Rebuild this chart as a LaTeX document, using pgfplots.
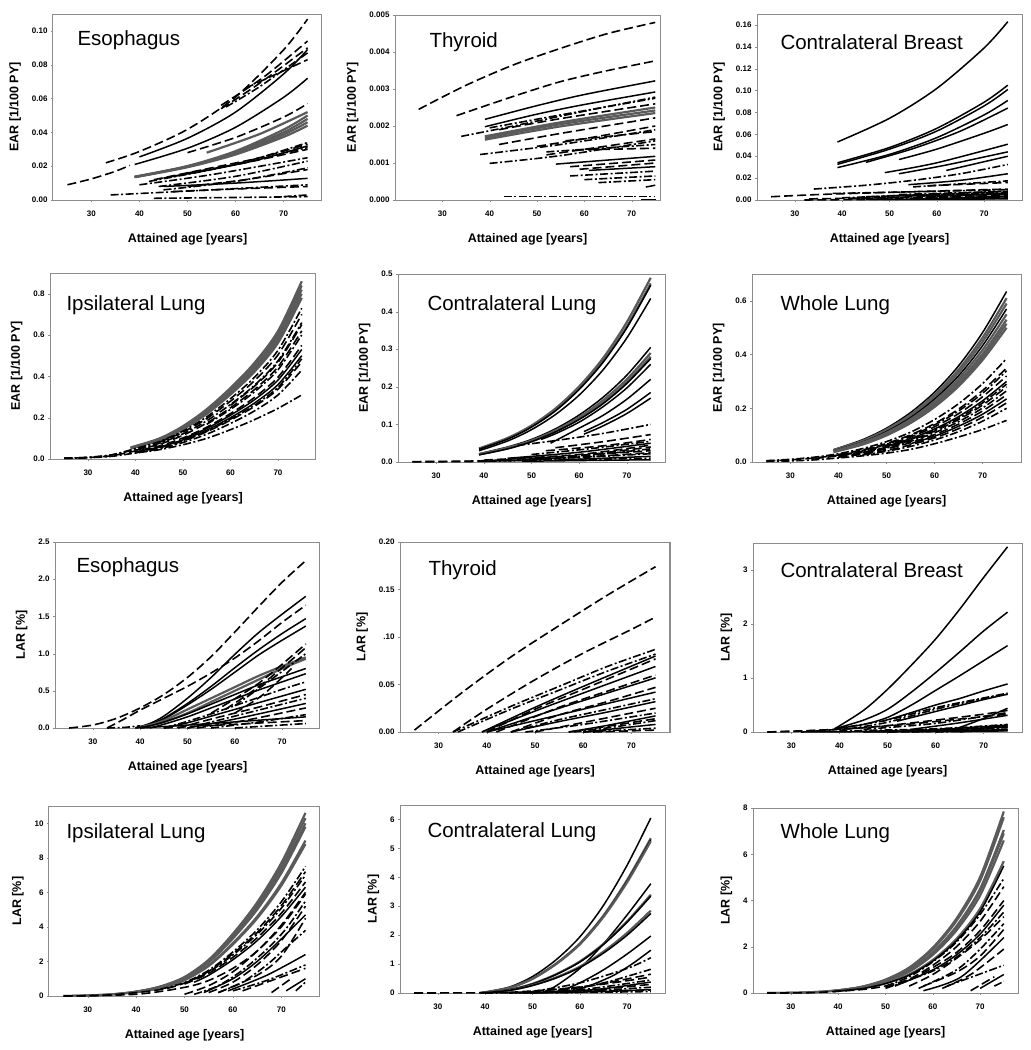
\documentclass[border=0pt]{standalone}
\usepackage{fontspec}
\setmainfont{Liberation Sans}
\usepackage{pgfplots}
\pgfplotsset{compat=1.18}
\definecolor{lgray}{HTML}{5A5A5A}
\definecolor{frame}{HTML}{8C8C8C}
\tikzset{
  bk/.style={black, line width=1.5pt, smooth},
  gr/.style={lgray, line width=2.2pt, smooth},
  ds/.style={black, line width=1.6pt, smooth, dash pattern=on 9pt off 4pt},
  dd/.style={black, line width=1.6pt, smooth, dash pattern=on 8pt off 2.5pt on 2pt off 2.5pt},
  ttl/.style={anchor=west, font=\fontsize{20.5}{23}\selectfont},
}
\pgfplotsset{
  panel/.style={
    scale only axis, anchor=north west,
    xmin=22, xmax=78, ymin=0,
    scaled y ticks=false, scaled x ticks=false,
    xtick={30,40,50,60,70}, xticklabels={30,40,50,60,70},
    axis line style={draw=frame, line width=1pt},
    tick pos=left,
    tick style={draw=frame}, tick align=outside, major tick length=2pt,
    /pgf/number format/assume math mode=true,
    ticklabel style={font=\bfseries\fontsize{8}{9}\selectfont},
    xticklabel style={yshift=-5pt},
    label style={font=\bfseries\fontsize{12.5}{14}\selectfont},
    xlabel={Attained age [years]},
    xlabel style={yshift=-10pt},
    ylabel style={yshift=4pt},
  },
}
\begin{document}
\begin{tikzpicture}
\path[use as bounding box] (0,0) rectangle (1031pt,-1050pt);

% ---------------- EAR Esophagus
\begin{axis}[panel, at={(53pt,-14pt)}, width=269pt, height=186pt, ymax=0.11,
  ytick={0,0.02,0.04,0.06,0.08,0.10}, yticklabels={0.00,0.02,0.04,0.06,0.08,0.10},
  ylabel={EAR [1/100 PY]}]
\node[ttl, xshift=21pt, yshift=-26pt] at (rel axis cs:0,1) {Esophagus};
\addplot[gr] coordinates {(39,0.0135)(50,0.0194)(60,0.0269)(70,0.0373)(75,0.044)};
\addplot[gr] coordinates {(39,0.0135)(50,0.0197)(60,0.0276)(70,0.0387)(75,0.046)};
\addplot[gr] coordinates {(39,0.0137)(50,0.0199)(60,0.0282)(70,0.0400)(75,0.048)};
\addplot[gr] coordinates {(39,0.0138)(50,0.0201)(60,0.0289)(70,0.0416)(75,0.050)};
\addplot[gr] coordinates {(54,0.028)(65,0.039)(75,0.052)};
\addplot[ds] coordinates {(33,0.022)(40,0.0287)(50,0.0418)(60,0.0609)(70,0.0888)(75,0.107)};
\addplot[ds] coordinates {(25,0.009)(30,0.0125)(35,0.017)(38,0.0205)};
\addplot[bk] coordinates {(39,0.021)(50,0.0306)(60,0.043)(70,0.0607)(75,0.072)};
\addplot[bk] coordinates {(40,0.0255)(50,0.0365)(60,0.052)(70,0.0745)(75,0.089)};
\addplot[ds] coordinates {(57,0.054)(65,0.069)(75,0.090)};
\addplot[dd] coordinates {(58,0.055)(65,0.067)(75,0.087)};
\addplot[ds] coordinates {(57,0.056)(66,0.073)(75,0.094)};
\addplot[ds] coordinates {(62,0.066)(75,0.083)};
\addplot[ds] coordinates {(50,0.028)(60,0.037)(70,0.049)(75,0.057)};
\addplot[dd] coordinates {(42,0.011)(55,0.018)(65,0.025)(75,0.034)};
\addplot[ds] coordinates {(43,0.012)(55,0.019)(65,0.025)(75,0.033)};
\addplot[bk] coordinates {(45,0.013)(55,0.018)(65,0.024)(75,0.032)};
\addplot[dd] coordinates {(47,0.014)(60,0.021)(75,0.031)};
\addplot[ds] coordinates {(50,0.016)(62,0.022)(75,0.030)};
\addplot[dd] coordinates {(40,0.009)(55,0.015)(75,0.025)};
\addplot[dd] coordinates {(44,0.008)(60,0.014)(75,0.023)};
\addplot[dd] coordinates {(45,0.006)(60,0.011)(75,0.019)};
\addplot[ds] coordinates {(50,0.008)(62,0.012)(75,0.018)};
\addplot[bk] coordinates {(45,0.008)(60,0.010)(75,0.0128)};
\addplot[dd] coordinates {(34,0.003)(55,0.006)(75,0.009)};
\addplot[ds] coordinates {(47,0.005)(60,0.0065)(75,0.008)};
\addplot[dd] coordinates {(43,0.001)(60,0.0015)(75,0.002)};
\addplot[dd] coordinates {(70,0.002)(75,0.003)};
\end{axis}

% ---------------- EAR Thyroid
\begin{axis}[panel, at={(395pt,-15pt)}, width=265pt, height=185pt, xmin=20, xmax=76, ymax=0.005,
  ytick={0,0.001,0.002,0.003,0.004,0.005}, yticklabels={0.000,0.001,0.002,0.003,0.004,0.005},
  ylabel={EAR [1/100 PY]}]
\node[ttl, xshift=31pt, yshift=-27pt] at (rel axis cs:0,1) {Thyroid};
\addplot[ds] coordinates {(25,0.00245)(35,0.0031)(45,0.00365)(55,0.0041)(65,0.0045)(75,0.0048)};
\addplot[ds] coordinates {(33,0.00228)(45,0.0028)(55,0.0032)(65,0.0035)(75,0.00376)};
\addplot[bk] coordinates {(39,0.00218)(50,0.00255)(60,0.00285)(75,0.00322)};
\addplot[bk] coordinates {(39,0.00198)(50,0.00232)(60,0.00258)(75,0.00292)};
\addplot[dd] coordinates {(34,0.00172)(45,0.0020)(60,0.0024)(75,0.00278)};
\addplot[dd] coordinates {(40,0.00195)(55,0.0023)(75,0.00275)};
\addplot[ds] coordinates {(42,0.0019)(55,0.0022)(75,0.0026)};
\addplot[gr] coordinates {(39,0.00172)(55,0.0021)(75,0.0025)};
\addplot[gr] coordinates {(39,0.00168)(55,0.00205)(75,0.00242)};
\addplot[gr] coordinates {(39,0.00163)(55,0.00199)(75,0.00235)};
\addplot[ds] coordinates {(42,0.0015)(55,0.0018)(75,0.00222)};
\addplot[dd] coordinates {(38,0.00123)(55,0.0015)(75,0.0019)};
\addplot[ds] coordinates {(50,0.00145)(62,0.0017)(75,0.0020)};
\addplot[ds] coordinates {(56,0.0016)(75,0.00185)};
\addplot[dd] coordinates {(40,0.00099)(55,0.0012)(75,0.0016)};
\addplot[ds] coordinates {(52,0.00122)(75,0.00165)};
\addplot[dd] coordinates {(52,0.0013)(75,0.0015)};
\addplot[ds] coordinates {(58,0.00135)(75,0.0014)};
\addplot[bk] coordinates {(54,0.00097)(75,0.00118)};
\addplot[ds] coordinates {(57,0.0009)(75,0.00108)};
\addplot[ds] coordinates {(59,0.00083)(75,0.0010)};
\addplot[bk] coordinates {(61,0.0008)(75,0.0009)};
\addplot[dd] coordinates {(57,0.00065)(75,0.00078)};
\addplot[dd] coordinates {(60,0.00055)(75,0.00065)};
\addplot[dd] coordinates {(63,0.00047)(75,0.00055)};
\addplot[bk] coordinates {(73,0.00035)(75,0.0004)};
\addplot[dd] coordinates {(43,0.0001)(75,0.0001)};
\addplot[bk] coordinates {(72,0.00002)(75,0.00002)};
\end{axis}

% ---------------- EAR Contralateral Breast
\begin{axis}[panel, at={(757pt,-14pt)}, width=265pt, height=186pt, ymax=0.17,
  ytick={0,0.02,0.04,0.06,0.08,0.10,0.12,0.14,0.16},
  yticklabels={0.00,0.02,0.04,0.06,0.08,0.10,0.12,0.14,0.16},
  ylabel={EAR [1/100 PY]}]
\node[ttl, xshift=20pt, yshift=-28pt] at (rel axis cs:0,1) {Contralateral Breast};
\addplot[bk] coordinates {(39,0.053)(50,0.0747)(60,0.102)(70,0.139)(75,0.163)};
\addplot[bk] coordinates {(39,0.034)(50,0.048)(60,0.0655)(70,0.0894)(75,0.105)};
\addplot[bk] coordinates {(39,0.0326)(50,0.0465)(60,0.063)(70,0.086)(75,0.101)};
\addplot[bk] coordinates {(39,0.0296)(50,0.0417)(60,0.057)(70,0.0778)(75,0.091)};
\addplot[bk] coordinates {(45,0.0344)(55,0.047)(65,0.063)(75,0.084)};
\addplot[bk] coordinates {(52,0.037)(60,0.0465)(70,0.061)(75,0.069)};
\addplot[bk] coordinates {(49,0.025)(60,0.034)(75,0.051)};
\addplot[bk] coordinates {(52,0.024)(62,0.032)(75,0.044)};
\addplot[bk] coordinates {(62,0.027)(75,0.040)};
\addplot[dd] coordinates {(34,0.010)(45,0.0135)(55,0.018)(65,0.024)(75,0.0325)};
\addplot[bk] coordinates {(54,0.014)(65,0.018)(75,0.024)};
\addplot[dd] coordinates {(55,0.012)(75,0.0175)};
\addplot[ds] coordinates {(58,0.013)(75,0.016)};
\addplot[ds] coordinates {(25,0.003)(35,0.005)(50,0.007)(75,0.010)};
\addplot[dd] coordinates {(38,0.006)(55,0.0075)(75,0.0095)};
\addplot[dd] coordinates {(40,0.002)(75,0.008)};
\addplot[ds] coordinates {(42,0.001)(75,0.006)};
\addplot[dd] coordinates {(45,0.003)(75,0.007)};
\addplot[bk] coordinates {(50,0.004)(75,0.005)};
\addplot[ds] coordinates {(33,0.001)(75,0.004)};
\addplot[dd] coordinates {(48,0.001)(75,0.003)};
\addplot[ds] coordinates {(55,0.002)(75,0.002)};
\addplot[bk] coordinates {(45,0.0005)(75,0.001)};
\addplot[dd] coordinates {(52,0.005)(75,0.008)};
\addplot[ds] coordinates {(60,0.003)(75,0.0065)};
\addplot[bk] coordinates {(58,0.001)(75,0.0035)};
\addplot[dd] coordinates {(62,0.0045)(75,0.0055)};
\addplot[ds] coordinates {(32,0.0)(45,0.0005)(75,0.0015)};
\end{axis}

% ---------------- EAR Ipsilateral Lung
\begin{axis}[panel, at={(50pt,-273pt)}, width=266pt, height=186pt, ymax=0.9,
  ytick={0,0.2,0.4,0.6,0.8}, yticklabels={0.0,0.2,0.4,0.6,0.8},
  ylabel={EAR [1/100 PY]}]
\node[ttl, xshift=13pt, yshift=-32pt] at (rel axis cs:0,1) {Ipsilateral Lung};
\addplot[gr] coordinates {(39,0.056)(45,0.099)(50,0.159)(55,0.241)(60,0.344)(65,0.464)(70,0.619)(75,0.86)};
\addplot[gr] coordinates {(39,0.055)(45,0.097)(50,0.155)(55,0.235)(60,0.336)(65,0.454)(70,0.605)(75,0.84)};
\addplot[gr] coordinates {(39,0.053)(45,0.094)(50,0.152)(55,0.230)(60,0.328)(65,0.443)(70,0.590)(75,0.82)};
\addplot[gr] coordinates {(39,0.052)(45,0.092)(50,0.148)(55,0.224)(60,0.320)(65,0.432)(70,0.576)(75,0.80)};
\addplot[gr] coordinates {(39,0.051)(45,0.090)(50,0.144)(55,0.218)(60,0.312)(65,0.421)(70,0.562)(75,0.78)};
\addplot[dd] coordinates {(25,0.004)(30,0.008)(35,0.02)(40,0.051)(45,0.084)(50,0.135)(55,0.204)(60,0.292)(65,0.394)(70,0.526)(75,0.73)};
\addplot[ds] coordinates {(45,0.081)(50,0.130)(55,0.196)(60,0.280)(65,0.378)(70,0.504)(75,0.70)};
\addplot[dd] coordinates {(25,0.004)(30,0.008)(35,0.02)(40,0.046)(45,0.076)(50,0.122)(55,0.185)(60,0.264)(65,0.356)(70,0.475)(75,0.66)};
\addplot[ds] coordinates {(60,0.26)(65,0.351)(70,0.468)(75,0.65)};
\addplot[ds] coordinates {(40,0.043)(45,0.071)(50,0.115)(55,0.174)(60,0.248)(65,0.335)(70,0.446)(75,0.62)};
\addplot[dd] coordinates {(55,0.168)(60,0.24)(65,0.324)(70,0.432)(75,0.60)};
\addplot[ds] coordinates {(25,0.003)(30,0.007)(35,0.016)(40,0.039)(45,0.063)(50,0.102)(55,0.154)(60,0.220)(65,0.297)(70,0.396)(75,0.55)};
\addplot[bk] coordinates {(50,0.098)(55,0.148)(60,0.212)(65,0.286)(70,0.382)(75,0.53)};
\addplot[bk] coordinates {(40,0.035)(45,0.058)(50,0.093)(55,0.140)(60,0.200)(65,0.270)(70,0.360)(75,0.50)};
\addplot[dd] coordinates {(45,0.056)(50,0.089)(55,0.135)(60,0.193)(65,0.260)(70,0.347)(75,0.485)};
\addplot[ds] coordinates {(40,0.033)(45,0.054)(50,0.087)(55,0.132)(60,0.188)(65,0.254)(70,0.338)(75,0.47)};
\addplot[dd] coordinates {(40,0.030)(45,0.049)(50,0.080)(55,0.120)(60,0.172)(65,0.232)(70,0.310)(75,0.43)};
\addplot[dd] coordinates {(25,0.003)(30,0.006)(35,0.013)(40,0.029)(45,0.045)(50,0.069)(55,0.10)(60,0.142)(65,0.19)(70,0.245)(75,0.31)};
\end{axis}

% ---------------- EAR Contralateral Lung
\begin{axis}[panel, at={(398pt,-274pt)}, width=267pt, height=188pt, ymax=0.5,
  ytick={0,0.1,0.2,0.3,0.4,0.5}, yticklabels={0.0,0.1,0.2,0.3,0.4,0.5},
  ylabel={EAR [1/100 PY]}]
\node[ttl, xshift=26pt, yshift=-31pt] at (rel axis cs:0,1) {Contralateral Lung};
\addplot[gr] coordinates {(39,0.036)(45,0.064)(50,0.097)(55,0.142)(60,0.201)(65,0.276)(70,0.372)(75,0.49)};
\addplot[gr] coordinates {(39,0.035)(45,0.062)(50,0.094)(55,0.137)(60,0.195)(65,0.268)(70,0.360)(75,0.475)};
\addplot[bk] coordinates {(39,0.034)(45,0.061)(50,0.093)(55,0.136)(60,0.193)(65,0.265)(70,0.357)(75,0.47)};
\addplot[bk] coordinates {(39,0.030)(45,0.056)(50,0.086)(55,0.126)(60,0.178)(65,0.245)(70,0.330)(75,0.435)};
\addplot[bk] coordinates {(39,0.022)(45,0.040)(50,0.060)(55,0.088)(60,0.125)(65,0.172)(70,0.231)(75,0.305)};
\addplot[gr] coordinates {(39,0.021)(45,0.038)(50,0.057)(55,0.084)(60,0.119)(65,0.164)(70,0.220)(75,0.29)};
\addplot[gr] coordinates {(39,0.020)(45,0.036)(50,0.055)(55,0.081)(60,0.115)(65,0.158)(70,0.212)(75,0.28)};
\addplot[bk] coordinates {(39,0.019)(45,0.035)(50,0.054)(55,0.080)(60,0.113)(65,0.155)(70,0.209)(75,0.275)};
\addplot[bk] coordinates {(52,0.060)(55,0.075)(60,0.106)(65,0.147)(70,0.197)(75,0.26)};
\addplot[bk] coordinates {(54,0.05)(60,0.09)(65,0.124)(70,0.167)(75,0.22)};
\addplot[bk] coordinates {(61,0.081)(65,0.105)(70,0.14)(75,0.185)};
\addplot[bk] coordinates {(61,0.074)(65,0.096)(70,0.129)(75,0.17)};
\addplot[dd] coordinates {(47,0.044)(55,0.057)(65,0.076)(75,0.10)};
\addplot[ds] coordinates {(55,0.038)(65,0.054)(75,0.073)};
\addplot[ds] coordinates {(53,0.03)(65,0.043)(75,0.06)};
\addplot[dd] coordinates {(50,0.02)(62,0.035)(75,0.055)};
\addplot[bk] coordinates {(45,0.01)(60,0.026)(75,0.05)};
\addplot[ds] coordinates {(40,0.005)(60,0.02)(75,0.045)};
\addplot[dd] coordinates {(45,0.003)(60,0.015)(75,0.035)};
\addplot[ds] coordinates {(50,0.008)(62,0.014)(75,0.025)};
\addplot[bk] coordinates {(55,0.005)(75,0.015)};
\addplot[dd] coordinates {(40,0.002)(75,0.01)};
\addplot[ds] coordinates {(25,0.0005)(40,0.002)(55,0.01)(75,0.04)};
\addplot[ds] coordinates {(25,0.001)(39,0.003)(50,0.01)(75,0.03)};
\addplot[dd] coordinates {(45,0.004)(60,0.012)(75,0.022)};
\addplot[bk] coordinates {(48,0.002)(75,0.006)};
\end{axis}

% ---------------- EAR Whole Lung
\begin{axis}[panel, at={(752pt,-274pt)}, width=269pt, height=188pt, ymax=0.7,
  ytick={0,0.2,0.4,0.6}, yticklabels={0.0,0.2,0.4,0.6},
  ylabel={EAR [1/100 PY]}]
\node[ttl, xshift=25pt, yshift=-31pt] at (rel axis cs:0,1) {Whole Lung};
\addplot[bk] coordinates {(39,0.046)(45,0.083)(50,0.126)(55,0.184)(60,0.260)(65,0.358)(70,0.482)(75,0.635)};
\addplot[gr] coordinates {(39,0.045)(45,0.079)(50,0.121)(55,0.176)(60,0.250)(65,0.344)(70,0.463)(75,0.61)};
\addplot[gr] coordinates {(39,0.043)(45,0.077)(50,0.117)(55,0.171)(60,0.242)(65,0.333)(70,0.448)(75,0.59)};
\addplot[bk] coordinates {(39,0.042)(45,0.074)(50,0.113)(55,0.165)(60,0.234)(65,0.321)(70,0.433)(75,0.57)};
\addplot[gr] coordinates {(39,0.040)(45,0.072)(50,0.109)(55,0.159)(60,0.226)(65,0.310)(70,0.417)(75,0.55)};
\addplot[gr] coordinates {(39,0.039)(45,0.069)(50,0.105)(55,0.153)(60,0.217)(65,0.299)(70,0.402)(75,0.53)};
\addplot[gr] coordinates {(39,0.038)(45,0.067)(50,0.102)(55,0.149)(60,0.211)(65,0.290)(70,0.391)(75,0.515)};
\addplot[gr] coordinates {(39,0.037)(45,0.065)(50,0.099)(55,0.145)(60,0.205)(65,0.282)(70,0.380)(75,0.50)};
\addplot[dd] coordinates {(25,0.005)(30,0.010)(35,0.018)(40,0.031)(45,0.050)(50,0.076)(55,0.111)(60,0.158)(65,0.217)(70,0.292)(75,0.385)};
\addplot[ds] coordinates {(40,0.028)(45,0.045)(50,0.069)(55,0.101)(60,0.143)(65,0.197)(70,0.266)(75,0.35)};
\addplot[dd] coordinates {(45,0.043)(50,0.066)(55,0.097)(60,0.138)(65,0.19)(70,0.256)(75,0.34)};
\addplot[ds] coordinates {(25,0.004)(30,0.008)(35,0.015)(40,0.026)(45,0.041)(50,0.063)(55,0.093)(60,0.131)(65,0.180)(70,0.243)(75,0.32)};
\addplot[bk] coordinates {(50,0.059)(55,0.087)(60,0.123)(65,0.169)(70,0.228)(75,0.30)};
\addplot[dd] coordinates {(40,0.024)(45,0.038)(50,0.057)(55,0.084)(60,0.119)(65,0.163)(70,0.220)(75,0.29)};
\addplot[ds] coordinates {(35,0.013)(40,0.023)(45,0.036)(50,0.055)(55,0.081)(60,0.115)(65,0.158)(70,0.212)(75,0.28)};
\addplot[dd] coordinates {(45,0.034)(50,0.052)(55,0.077)(60,0.109)(65,0.150)(70,0.201)(75,0.265)};
\addplot[ds] coordinates {(40,0.020)(45,0.032)(50,0.049)(55,0.072)(60,0.102)(65,0.141)(70,0.190)(75,0.25)};
\addplot[bk] coordinates {(55,0.068)(60,0.096)(65,0.133)(70,0.178)(75,0.235)};
\addplot[ds] coordinates {(40,0.018)(45,0.029)(50,0.043)(55,0.064)(60,0.090)(65,0.124)(70,0.167)(75,0.22)};
\addplot[dd] coordinates {(45,0.026)(50,0.040)(55,0.058)(60,0.082)(65,0.113)(70,0.152)(75,0.20)};
\addplot[dd] coordinates {(25,0.002)(30,0.004)(35,0.008)(40,0.015)(45,0.023)(50,0.033)(55,0.047)(60,0.068)(65,0.093)(70,0.121)(75,0.155)};
\end{axis}

% ---------------- LAR Esophagus
\begin{axis}[panel, at={(55pt,-542pt)}, width=265pt, height=186pt, ymax=2.5,
  ytick={0,0.5,1,1.5,2,2.5}, yticklabels={0.0,0.5,1.0,1.5,2.0,2.5},
  ylabel={LAR [\%]}]
\node[ttl, xshift=18pt, yshift=-25pt] at (rel axis cs:0,1) {Esophagus};
\addplot[ds] coordinates {(25,0)(30,0.04)(35,0.13)(40,0.27)(45,0.45)(50,0.68)(55,0.96)(60,1.29)(65,1.63)(70,1.96)(75,2.25)};
\addplot[ds] coordinates {(33,0)(36,0.1)(40,0.24)(45,0.40)(50,0.56)(55,0.74)(60,0.94)(65,1.17)(70,1.42)(75,1.65)};
\addplot[bk] coordinates {(39,0)(42,0.06)(45,0.16)(50,0.40)(55,0.68)(60,0.99)(65,1.28)(70,1.53)(75,1.77)};
\addplot[bk] coordinates {(39,0)(42,0.05)(45,0.13)(50,0.33)(55,0.56)(60,0.81)(65,1.05)(70,1.27)(75,1.47)};
\addplot[bk] coordinates {(39,0)(42,0.05)(45,0.12)(50,0.31)(55,0.52)(60,0.75)(65,0.98)(70,1.18)(75,1.37)};
\addplot[gr] coordinates {(39,0)(42,0.04)(45,0.10)(50,0.25)(55,0.40)(60,0.55)(65,0.70)(70,0.83)(75,0.95)};
\addplot[gr] coordinates {(40,0)(45,0.08)(50,0.2)(55,0.35)(60,0.5)(65,0.65)(70,0.8)(75,0.93)};
\addplot[ds] coordinates {(55,0.2)(65,0.6)(75,1.13)};
\addplot[ds] coordinates {(58,0.25)(66,0.6)(75,1.08)};
\addplot[dd] coordinates {(60,0.3)(67,0.62)(75,1.0)};
\addplot[ds] coordinates {(60,0.2)(66,0.45)(72,0.8)};
\addplot[bk] coordinates {(39,0)(42,0.03)(45,0.08)(50,0.19)(55,0.32)(60,0.45)(65,0.58)(70,0.69)(75,0.80)};
\addplot[bk] coordinates {(42,0)(45,0.05)(50,0.15)(55,0.27)(60,0.39)(65,0.51)(70,0.62)(75,0.73)};
\addplot[dd] coordinates {(45,0)(50,0.09)(55,0.19)(60,0.30)(65,0.41)(70,0.52)(75,0.62)};
\addplot[bk] coordinates {(45,0)(50,0.07)(55,0.16)(60,0.25)(65,0.34)(70,0.43)(75,0.52)};
\addplot[ds] coordinates {(48,0)(55,0.12)(65,0.28)(75,0.45)};
\addplot[dd] coordinates {(50,0)(55,0.08)(65,0.24)(75,0.40)};
\addplot[bk] coordinates {(50,0)(60,0.12)(75,0.33)};
\addplot[ds] coordinates {(52,0)(62,0.1)(75,0.27)};
\addplot[dd] coordinates {(55,0)(65,0.08)(75,0.18)};
\addplot[bk] coordinates {(40,0)(55,0.06)(75,0.15)};
\addplot[ds] coordinates {(45,0)(60,0.05)(75,0.1)};
\addplot[dd] coordinates {(60,0)(75,0.06)};
\addplot[dd] coordinates {(33,0)(37,0.01)(40,0.03)};
\end{axis}

% ---------------- LAR Thyroid
\begin{axis}[panel, at={(400pt,-542pt)}, width=270pt, height=190pt, ymax=0.2,
  ytick={0,0.05,0.1,0.15,0.2}, yticklabels={0.00,0.05,.10,0.15,0.20},
  ylabel={LAR [\%]}]
\node[ttl, xshift=25pt, yshift=-28pt] at (rel axis cs:0,1) {Thyroid};
\addplot[ds] coordinates {(25,0.002)(35,0.042)(45,0.079)(55,0.112)(65,0.144)(75,0.174)};
\addplot[ds] coordinates {(33,0)(40,0.024)(50,0.055)(60,0.083)(70,0.108)(75,0.121)};
\addplot[dd] coordinates {(33,0)(45,0.027)(55,0.048)(65,0.069)(75,0.087)};
\addplot[dd] coordinates {(34,0)(45,0.024)(55,0.044)(65,0.064)(75,0.082)};
\addplot[bk] coordinates {(39,0)(50,0.026)(60,0.048)(75,0.080)};
\addplot[ds] coordinates {(40,0)(50,0.024)(60,0.045)(75,0.077)};
\addplot[bk] coordinates {(39,0)(50,0.022)(60,0.041)(75,0.069)};
\addplot[ds] coordinates {(42,0)(55,0.026)(65,0.043)(75,0.060)};
\addplot[bk] coordinates {(40,0)(55,0.025)(65,0.041)(75,0.057)};
\addplot[ds] coordinates {(45,0)(55,0.018)(65,0.032)(75,0.047)};
\addplot[bk] coordinates {(40,0)(55,0.018)(65,0.030)(75,0.042)};
\addplot[dd] coordinates {(45,0)(55,0.013)(65,0.024)(75,0.035)};
\addplot[bk] coordinates {(45,0)(55,0.011)(65,0.021)(75,0.032)};
\addplot[ds] coordinates {(50,0)(60,0.010)(75,0.025)};
\addplot[dd] coordinates {(48,0)(60,0.008)(75,0.020)};
\addplot[bk] coordinates {(57,0)(65,0.007)(75,0.017)};
\addplot[ds] coordinates {(57,0)(65,0.006)(75,0.014)};
\addplot[dd] coordinates {(58,0)(66,0.005)(75,0.012)};
\addplot[bk] coordinates {(60,0)(75,0.008)};
\addplot[dd] coordinates {(60,0)(75,0.004)};
\addplot[ds] coordinates {(62,0)(75,0.002)};
\end{axis}

% ---------------- LAR Contralateral Breast
\begin{axis}[panel, at={(753pt,-543pt)}, width=269pt, height=189pt, ymax=3.5,
  ytick={0,1,2,3}, yticklabels={0,1,2,3},
  ylabel={LAR [\%]}]
\node[ttl, xshift=24pt, yshift=-27pt] at (rel axis cs:0,1) {Contralateral Breast};
\addplot[bk] coordinates {(39,0.06)(45,0.40)(50,0.79)(55,1.24)(60,1.72)(65,2.27)(70,2.86)(75,3.43)};
\addplot[bk] coordinates {(39,0.06)(45,0.22)(50,0.42)(55,0.74)(60,1.10)(65,1.48)(70,1.87)(75,2.22)};
\addplot[bk] coordinates {(39,0.06)(45,0.14)(50,0.27)(55,0.50)(60,0.77)(65,1.04)(70,1.32)(75,1.60)};
\addplot[bk] coordinates {(49,0.2)(55,0.36)(60,0.5)(65,0.62)(70,0.76)(75,0.89)};
\addplot[bk] coordinates {(52,0.2)(60,0.38)(65,0.49)(70,0.6)(75,0.70)};
\addplot[dd] coordinates {(39,0.06)(50,0.22)(60,0.45)(70,0.63)(75,0.72)};
\addplot[dd] coordinates {(42,0.06)(50,0.18)(60,0.42)(70,0.62)(75,0.70)};
\addplot[ds] coordinates {(25,0)(40,0.05)(50,0.12)(60,0.22)(70,0.33)(75,0.40)};
\addplot[ds] coordinates {(35,0.02)(45,0.08)(55,0.15)(65,0.24)(75,0.33)};
\addplot[bk] coordinates {(64,0.05)(70,0.25)(75,0.44)};
\addplot[bk] coordinates {(55,0.05)(65,0.17)(75,0.31)};
\addplot[dd] coordinates {(45,0.05)(60,0.16)(75,0.36)};
\addplot[ds] coordinates {(25,0)(33,0.02)(39,0.05)};
\addplot[dd] coordinates {(40,0.02)(60,0.06)(75,0.14)};
\addplot[ds] coordinates {(45,0.01)(60,0.05)(75,0.12)};
\addplot[bk] coordinates {(50,0.01)(65,0.05)(75,0.10)};
\addplot[dd] coordinates {(55,0.0)(65,0.04)(75,0.08)};
\addplot[ds] coordinates {(50,0.0)(65,0.02)(75,0.05)};
\addplot[bk] coordinates {(45,0.0)(75,0.02)};
\addplot[dd] coordinates {(60,0.0)(75,0.03)};
\addplot[ds] coordinates {(65,0.0)(75,0.1)};
\addplot[bk] coordinates {(32,0)(50,0.01)(75,0.04)};
\addplot[bk] coordinates {(55,0.02)(65,0.07)(75,0.13)};
\addplot[dd] coordinates {(58,0.01)(68,0.05)(75,0.09)};
\end{axis}

% ---------------- LAR Ipsilateral Lung
\begin{axis}[panel, at={(49pt,-806pt)}, width=271pt, height=190pt, ymax=11,
  ytick={0,2,4,6,8,10}, yticklabels={0,2,4,6,8,10},
  ylabel={LAR [\%]}]
\node[ttl, xshift=14pt, yshift=-27pt] at (rel axis cs:0,1) {Ipsilateral Lung};
\addplot[gr] coordinates {(25,0)(30,0.03)(35,0.10)(40,0.25)(45,0.55)(50,1.10)(55,2.10)(60,3.60)(65,5.41)(70,7.70)(75,10.6)};
\addplot[gr] coordinates {(25,0)(30,0.03)(35,0.09)(40,0.25)(45,0.54)(50,1.07)(55,2.04)(60,3.50)(65,5.25)(70,7.48)(75,10.3)};
\addplot[gr] coordinates {(30,0.03)(35,0.09)(40,0.24)(45,0.52)(50,1.04)(55,1.98)(60,3.40)(65,5.10)(70,7.26)(75,10.0)};
\addplot[gr] coordinates {(39,0.2)(45,0.51)(50,1.02)(55,1.94)(60,3.33)(65,5.0)(70,7.11)(75,9.8)};
\addplot[gr] coordinates {(39,0.18)(45,0.47)(50,0.94)(55,1.78)(60,3.06)(65,4.59)(70,6.53)(75,9.0)};
\addplot[gr] coordinates {(39,0.17)(45,0.46)(50,0.92)(55,1.74)(60,2.99)(65,4.49)(70,6.39)(75,8.8)};
\addplot[dd] coordinates {(45,0.39)(50,0.78)(55,1.49)(60,2.55)(65,3.83)(70,5.45)(75,7.5)};
\addplot[ds] coordinates {(25,0)(35,0.07)(45,0.37)(50,0.75)(55,1.43)(60,2.45)(65,3.67)(70,5.23)(75,7.2)};
\addplot[dd] coordinates {(50,0.73)(55,1.39)(60,2.38)(65,3.57)(70,5.08)(75,7.0)};
\addplot[ds] coordinates {(50,0.69)(55,1.31)(60,2.24)(65,3.37)(70,4.79)(75,6.6)};
\addplot[bk] coordinates {(52,0.8)(55,1.2)(60,2.1)(65,3.2)(70,4.6)(75,6.3)};
\addplot[ds] coordinates {(25,0)(40,0.1)(50,0.5)(55,0.9)(60,1.6)(65,2.6)(70,4.1)(75,6.0)};
\addplot[ds] coordinates {(50,0.1)(55,0.6)(60,1.4)(65,2.6)(70,4.0)(75,5.9)};
\addplot[dd] coordinates {(52,0.1)(57,0.6)(62,1.5)(67,2.7)(71,3.9)(75,5.5)};
\addplot[ds] coordinates {(55,0.2)(60,0.8)(65,1.8)(70,3.2)(75,5.2)};
\addplot[bk] coordinates {(54,0.2)(60,1.0)(65,2.0)(70,3.3)(75,4.7)};
\addplot[dd] coordinates {(57,0.2)(62,0.8)(67,1.8)(71,2.8)(75,3.8)};
\addplot[ds] coordinates {(57,0.2)(65,1.2)(70,2.3)(75,4.5)};
\addplot[bk] coordinates {(59,0.3)(67,1.2)(75,2.4)};
\addplot[dd] coordinates {(60,0.3)(67,0.9)(75,1.8)};
\addplot[ds] coordinates {(62,0.3)(68,0.9)(75,1.6)};
\addplot[ds] coordinates {(68,0.2)(72,1.0)};
\addplot[bk] coordinates {(71,0.3)(75,1.0)};
\addplot[dd] coordinates {(73,0.3)(75,0.8)};
\end{axis}

% ---------------- LAR Contralateral Lung
\begin{axis}[panel, at={(400pt,-805pt)}, width=265pt, height=188pt, ymax=6.5,
  ytick={0,1,2,3,4,5,6}, yticklabels={0,1,2,3,4,5,6},
  ylabel={LAR [\%]}]
\node[ttl, xshift=24pt, yshift=-27pt] at (rel axis cs:0,1) {Contralateral Lung};
\addplot[bk] coordinates {(39,0)(45,0.20)(50,0.57)(55,1.15)(60,1.94)(65,3.03)(70,4.42)(75,6.05)};
\addplot[gr] coordinates {(39,0)(45,0.18)(50,0.50)(55,1.02)(60,1.71)(65,2.68)(70,3.91)(75,5.35)};
\addplot[bk] coordinates {(39,0)(45,0.17)(50,0.50)(55,1.01)(60,1.70)(65,2.65)(70,3.87)(75,5.3)};
\addplot[gr] coordinates {(39,0)(45,0.17)(50,0.49)(55,1.0)(60,1.68)(65,2.63)(70,3.83)(75,5.25)};
\addplot[bk] coordinates {(52,0)(55,0.25)(60,0.85)(65,1.7)(70,2.7)(75,3.78)};
\addplot[gr] coordinates {(39,0)(45,0.11)(50,0.32)(55,0.65)(60,1.09)(65,1.70)(70,2.48)(75,3.4)};
\addplot[bk] coordinates {(39,0)(45,0.11)(50,0.31)(55,0.64)(60,1.07)(65,1.68)(70,2.45)(75,3.35)};
\addplot[gr] coordinates {(39,0)(45,0.09)(50,0.27)(55,0.54)(60,0.91)(65,1.43)(70,2.08)(75,2.85)};
\addplot[bk] coordinates {(39,0)(45,0.09)(50,0.26)(55,0.52)(60,0.88)(65,1.38)(70,2.0)(75,2.75)};
\addplot[bk] coordinates {(55,0)(60,0.35)(65,0.8)(70,1.35)(75,1.97)};
\addplot[bk] coordinates {(57,0)(62,0.25)(67,0.6)(71,1.0)(75,1.48)};
\addplot[dd] coordinates {(50,0.05)(60,0.35)(70,0.85)(75,1.22)};
\addplot[dd] coordinates {(55,0.05)(65,0.35)(75,0.82)};
\addplot[ds] coordinates {(50,0.05)(62,0.25)(75,0.65)};
\addplot[ds] coordinates {(45,0.02)(60,0.2)(75,0.55)};
\addplot[dd] coordinates {(50,0.02)(62,0.15)(75,0.45)};
\addplot[bk] coordinates {(55,0.02)(65,0.15)(75,0.38)};
\addplot[ds] coordinates {(48,0)(62,0.1)(75,0.3)};
\addplot[dd] coordinates {(45,0)(60,0.06)(75,0.2)};
\addplot[bk] coordinates {(50,0)(65,0.05)(75,0.12)};
\addplot[ds] coordinates {(25,0)(40,0.01)(55,0.05)(75,0.1)};
\addplot[dd] coordinates {(40,0)(60,0.02)(75,0.05)};
\end{axis}

% ---------------- LAR Whole Lung
\begin{axis}[panel, at={(753pt,-808pt)}, width=265pt, height=185pt, ymax=8,
  ytick={0,2,4,6,8}, yticklabels={0,2,4,6,8},
  ylabel={LAR [\%]}]
\node[ttl, xshift=24pt, yshift=-25pt] at (rel axis cs:0,1) {Whole Lung};
\addplot[gr] coordinates {(25,0)(30,0.01)(35,0.04)(40,0.12)(45,0.27)(50,0.58)(55,1.10)(60,1.96)(65,3.22)(70,5.02)(75,7.85)};
\addplot[gr] coordinates {(25,0)(30,0.01)(35,0.04)(40,0.11)(45,0.27)(50,0.56)(55,1.06)(60,1.90)(65,3.12)(70,4.86)(75,7.6)};
\addplot[gr] coordinates {(39,0.09)(45,0.25)(50,0.52)(55,0.99)(60,1.76)(65,2.89)(70,4.51)(75,7.05)};
\addplot[gr] coordinates {(39,0.09)(45,0.24)(50,0.51)(55,0.97)(60,1.73)(65,2.83)(70,4.42)(75,6.9)};
\addplot[gr] coordinates {(39,0.08)(45,0.23)(50,0.49)(55,0.92)(60,1.65)(65,2.71)(70,4.22)(75,6.6)};
\addplot[gr] coordinates {(39,0.07)(45,0.20)(50,0.42)(55,0.80)(60,1.43)(65,2.34)(70,3.65)(75,5.7)};
\addplot[bk] coordinates {(39,0.07)(45,0.19)(50,0.41)(55,0.77)(60,1.38)(65,2.26)(70,3.52)(75,5.5)};
\addplot[ds] coordinates {(25,0)(35,0.02)(45,0.15)(50,0.3)};
\addplot[dd] coordinates {(50,0.3)(55,0.7)(60,1.35)(65,2.2)(70,3.4)(75,4.95)};
\addplot[ds] coordinates {(50,0.3)(55,0.6)(60,1.2)(65,2.0)(70,3.1)(75,4.6)};
\addplot[ds] coordinates {(50,0.25)(55,0.55)(60,1.1)(65,1.75)(70,2.7)(75,4.0)};
\addplot[bk] coordinates {(52,0.3)(60,1.0)(65,1.65)(70,2.55)(75,3.8)};
\addplot[dd] coordinates {(50,0.2)(60,0.95)(65,1.55)(70,2.4)(75,3.5)};
\addplot[ds] coordinates {(55,0.3)(60,0.8)(65,1.5)(70,2.3)(75,3.3)};
\addplot[dd] coordinates {(57,0.2)(65,1.0)(70,1.9)(75,3.0)};
\addplot[ds] coordinates {(58,0.3)(65,0.9)(70,1.6)(75,2.75)};
\addplot[bk] coordinates {(58,0.1)(66,0.7)(75,2.4)};
\addplot[ds] coordinates {(62,0.2)(68,0.8)(75,1.9)};
\addplot[dd] coordinates {(63,0.3)(75,1.2)};
\addplot[ds] coordinates {(68,0.1)(73,0.7)};
\addplot[bk] coordinates {(70,0.2)(75,0.8)};
\addplot[dd] coordinates {(73,0.3)(75,0.5)};
\end{axis}
\end{tikzpicture}
\end{document}
